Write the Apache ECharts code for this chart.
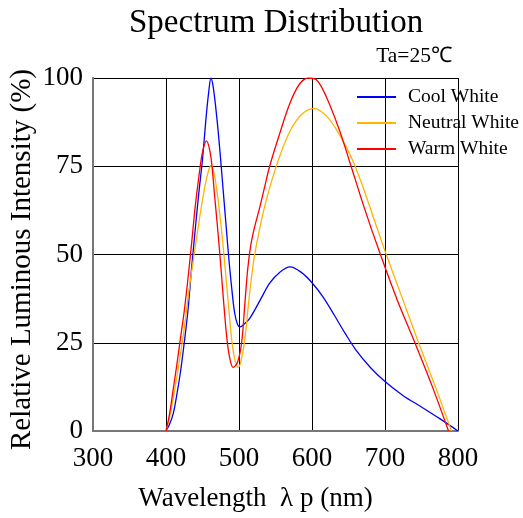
<!DOCTYPE html>
<html><head><meta charset="utf-8">
<script src="https://cdn.jsdelivr.net/npm/echarts@6/dist/echarts.min.js"></script>
<style>html,body{margin:0;padding:0;background:#fff}#c{width:523px;height:518px}</style>
</head><body><div id="c"></div>
<script>
const seriesNames = ['Cool White', 'Neutral White', 'Warm White'];
const coolWhite = [[400,0],[405,2],[410,5],[415,10.5],[420,17],[425,25],[430,34],[435,46],[440,57],[445,67.5],[450,77],[455,89],[458.5,96],[461.6,100],[465,97],[470,88],[474,79],[478,69],[482,59],[486,49],[490,40.5],[494,33.5],[498,30.2],[501.5,29.5],[508,30.5],[515,32],[528.8,37],[542.5,42],[556,45],[570,46.5],[585,45],[600,42],[615,38],[630,33],[645,27.8],[660,23],[680,18],[700,14],[725,10],[750,6.8],[775,3.5],[800,0]];
const neutralWhite = [[400,0],[405,4],[410,9.5],[415,15.5],[420,22],[425,29],[430,37.5],[435,45],[440,52],[445,59],[450,65.5],[455,71],[459,74.2],[461.6,75.2],[464,74.5],[468,70.5],[472,64.5],[476,57],[480,48.5],[485,37],[490,26],[494,20.5],[499,18],[503,20],[508,26],[514,38],[520,48],[526,55],[535,63.5],[545,71],[556,78],[570,85],[585,89.5],[602,91.4],[620,89.2],[638,83.8],[655,77],[670,69],[685,60],[700,51],[723,38],[746,25],[770,12],[791,0]];
const warmWhite = [[400,0],[405,5],[410,12],[415,19],[420,26.5],[425,34],[430,43],[435,53],[440,63.5],[445,72],[450,79],[455.5,82.2],[460,79.5],[463,75],[466,68],[470,59],[474,49.5],[478,39],[483,27],[487,21],[492,18],[498,19.5],[503.6,25],[508,36],[512,46],[516,52.5],[521,57.5],[528,63],[535,69],[542,75],[556,84.4],[570,93],[583,98.3],[595,100],[606,99.5],[620,94.5],[638,85],[652,76],[672,63],[693,50.4],[717,37],[741,25],[765,12.5],[787,0]];
const colors = ['#0000ff', '#ffb400', '#ff0000'];
const serif = 'Liberation Serif';

const chart = echarts.init(document.getElementById('c'));
chart.setOption({
  animation: false,
  backgroundColor: '#fff',
  title: [
    {text: 'Spectrum Distribution', left: 124, top: 2,
     textStyle: {fontFamily: serif, fontSize: 33, fontWeight: 'normal', color: '#000'}},
    {text: 'Ta=25℃', right: 66, top: 40,
     textStyle: {fontFamily: serif, fontSize: 21.5, fontWeight: 'normal', color: '#000'}}
  ],
  legend: {
    data: seriesNames, orient: 'vertical', left: 352, top: 82,
    itemWidth: 39, itemHeight: 2, itemGap: 6, icon: 'rect',
    textStyle: {fontFamily: serif, fontSize: 19.5, color: '#000', padding: [0, 0, 0, 7]}
  },
  grid: {left: 93, right: 65, top: 78, bottom: 87, containLabel: false, outerBoundsMode: 'none'},
  xAxis: {
    type: 'value', min: 300, max: 800, interval: 100,
    name: 'Wavelength  λ p (nm)', nameLocation: 'middle', nameGap: 54, nameMoveOverlap: false,
    nameTextStyle: {fontFamily: serif, fontSize: 27, color: '#000', padding: [0, 40, 0, 0]},
    axisLine: {show: true, lineStyle: {color: '#777', width: 2}},
    axisTick: {show: false},
    axisLabel: {fontFamily: serif, fontSize: 27, color: '#000', margin: 14},
    splitLine: {show: true, lineStyle: {color: '#000', width: 1}}
  },
  yAxis: {
    type: 'value', min: 0, max: 100, interval: 25,
    name: 'Relative Luminous Intensity (%)', nameLocation: 'middle', nameGap: 56, nameMoveOverlap: false,
    nameTextStyle: {fontFamily: serif, fontSize: 29, color: '#000', padding: [0, 10, 0, 0]},
    axisLine: {show: true, lineStyle: {color: '#777', width: 2}},
    axisTick: {show: false},
    axisLabel: {fontFamily: serif, fontSize: 27, color: '#000', margin: 10},
    splitLine: {show: true, lineStyle: {color: '#000', width: 1}}
  },
  series: [
    {name: seriesNames[0], type: 'line', data: coolWhite, smooth: 0.35, showSymbol: false, lineStyle: {color: colors[0], width: 1.3}, itemStyle: {color: colors[0]}},
    {name: seriesNames[1], type: 'line', data: neutralWhite, smooth: 0.35, showSymbol: false, lineStyle: {color: colors[1], width: 1.3}, itemStyle: {color: colors[1]}},
    {name: seriesNames[2], type: 'line', data: warmWhite, smooth: 0.35, showSymbol: false, lineStyle: {color: colors[2], width: 1.3}, itemStyle: {color: colors[2]}}
  ]
});
</script></body></html>
